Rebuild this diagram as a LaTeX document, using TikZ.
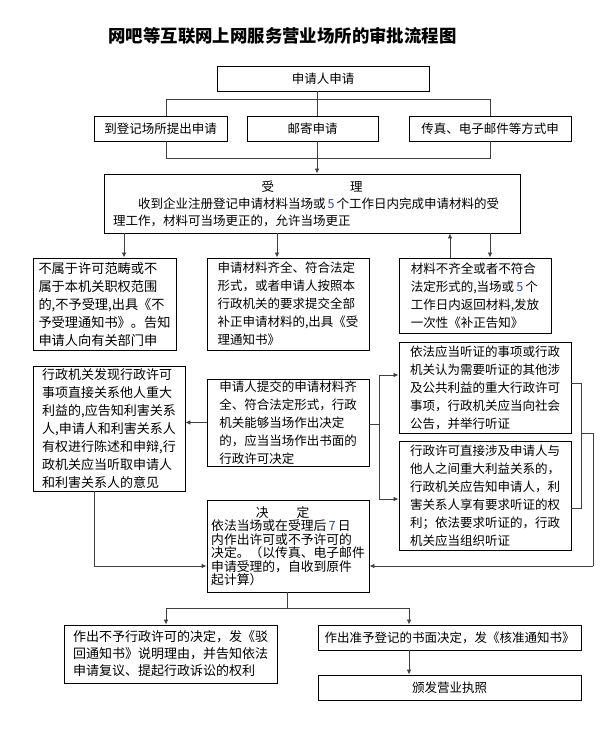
\documentclass[tikz,border=0pt]{standalone}
\usepackage{fontspec}
\setmainfont{Noto Sans CJK SC}
\usetikzlibrary{arrows.meta}
\definecolor{digitblue}{RGB}{50,70,170}
\newcommand{\dg}[1]{\,{\color{digitblue}#1}\,}
\begin{document}
\begin{tikzpicture}[x=1pt,y=-1pt,
  box/.style={draw,line width=0.9pt,inner sep=0pt,align=left,font=\fontsize{12.5}{18}\selectfont},
  link/.style={draw=black!75,line width=0.8pt},
  arr/.style={link,-{Latex[length=5pt,width=4.5pt]}}]
  \path[fill=white] (0,0) rectangle (614,735);
  \useasboundingbox (0,0) rectangle (614,735);

  \node[font=\fontsize{17.4}{20}\selectfont\bfseries] (title) at (282.5,36) {网吧等互联网上网服务营业场所的审批流程图};

  \node[box,minimum width=212,minimum height=25] (apply) at (323,78.5) {申请人申请};
  \node[box,minimum width=133,minimum height=25] (site) at (160.5,128.5) {到登记场所提出申请};
  \node[box,minimum width=131,minimum height=25] (mail) at (312.5,128.5) {邮寄申请};
  \node[box,minimum width=162,minimum height=25] (fax) at (490,128.5) {传真、电子邮件等方式申};

  \node[box,minimum width=416,minimum height=59,font=\fontsize{12.5}{17}\selectfont] (accept) at (312,203.5)
    {\makebox[398pt]{受\hspace{76pt}理}\\
     \hspace*{25pt}收到企业注册登记申请材料当场或\dg{5}个工作日内完成申请材料的受\\
     理工作，材料可当场更正的，允许当场更正};

  \node[box,minimum width=143,minimum height=92,font=\fontsize{13.2}{18}\selectfont] (reject) at (104.5,304)
    {不属于许可范畴或不\\属于本机关职权范围\\的,不予受理,出具《不\\予受理通知书》。告知\\申请人向有关部门申};
  \node[box,minimum width=162,minimum height=92] (complete) at (288,304)
    {申请材料齐全、符合法定\\形式，或者申请人按照本\\行政机关的要求提交全部\\补正申请材料的,出具《受\\理通知书》};
  \node[box,minimum width=152,minimum height=75] (amend) at (475,295.5)
    {材料不齐全或者不符合\\法定形式的,当场或\dg{5}个\\工作日内返回材料,发放\\一次性《补正告知》};

  \node[box,minimum width=152,minimum height=125,font=\fontsize{13}{18}\selectfont] (inform) at (109,428.5)
    {行政机关发现行政许可\\事项直接关系他人重大\\利益的,应告知利害关系\\人,申请人和利害关系人\\有权进行陈述和申辩,行\\政机关应当听取申请人\\和利害关系人的意见};
  \node[box,minimum width=162,minimum height=87] (onsite) at (288,422.5)
    {申请人提交的申请材料齐\\全、符合法定形式，行政\\机关能够当场作出决定\\的，应当当场作出书面的\\行政许可决定};
  \node[box,minimum width=172,minimum height=91] (hearing1) at (485,387.5)
    {依法应当听证的事项或行政\\机关认为需要听证的其他涉\\及公共利益的重大行政许可\\事项，行政机关应当向社会\\公告，并举行听证};
  \node[box,minimum width=172,minimum height=109] (hearing2) at (485,495.5)
    {行政许可直接涉及申请人与\\他人之间重大利益关系的，\\行政机关应告知申请人，利\\害关系人享有要求听证的权\\利；依法要求听证的，行政\\机关应当组织听证};

  \node[box,minimum width=162,minimum height=92,font=\fontsize{12.8}{13.5}\selectfont] (decide) at (288,546)
    {\makebox[143pt]{决\hspace{28pt}定}\\
     依法当场或在受理后\dg{7}日\\内作出许可或不予许可的\\决定。（以传真、电子邮件\\申请受理的，自收到原件\\起计算）};

  \node[box,minimum width=213,minimum height=58,font=\fontsize{13}{17}\selectfont] (deny) at (170.5,654)
    {作出不予行政许可的决定，发《驳\\回通知书》说明理由，并告知依法\\申请复议、提起行政诉讼的权利};
  \node[box,minimum width=263,minimum height=25] (grant) at (449.5,637.5) {作出准予登记的书面决定，发《核准通知书》};
  \node[box,minimum width=263,minimum height=25] (license) at (449.5,687.5) {颁发营业执照};

  \coordinate (trunk) at (317,0);
  \coordinate (busTL) at (166,99);
  \coordinate (busTR) at (490,99);
  \coordinate (busBL) at (166,158);
  \coordinate (busBR) at (490,158);
  \draw[link] (busTL |- site.north) -- (busTL) -- (busTR) -- (busTR |- fax.north);
  \draw[link] (busBL |- site.south) -- (busBL) -- (busBR) -- (busBR |- fax.south);
  \draw[link] (apply.south -| trunk) -- (mail.north -| trunk);
  \draw[arr] (mail.south -| trunk) -- (accept.north -| trunk);

  \coordinate (xa) at (124,0);
  \coordinate (xb) at (277,0);
  \coordinate (xc) at (450,0);
  \coordinate (xd) at (490,0);
  \draw[arr] (accept.south -| xa) -- (reject.north -| xa);
  \draw[arr] (accept.south -| xb) -- (complete.north -| xb);
  \draw[arr] (amend.north -| xc) -- (accept.south -| xc);
  \draw[arr] (accept.south -| xd) -- (amend.north -| xd);

  \draw[arr] (onsite.west) -- (inform.east |- onsite.west);
  \coordinate (split) at (379,424);
  \coordinate (h1in) at (379,375);
  \coordinate (h2in) at (379,499);
  \draw[link] (onsite.east |- split) -- (split);
  \draw[link] (h1in) -- (h2in);
  \draw[arr] (h1in) -- (hearing1.west |- h1in);
  \draw[arr] (h2in) -- (hearing2.west |- h2in);

  \coordinate (brT) at (581,383);
  \coordinate (brM) at (581,433);
  \coordinate (brB) at (581,508);
  \coordinate (outT) at (593,433);
  \coordinate (outB) at (593,566);
  \draw[link] (hearing1.east |- brT) -- (brT) -- (brB) -- (hearing2.east |- brB);
  \draw[link] (brM) -- (outT) -- (outB);
  \draw[arr] (outB) -- (decide.east |- outB);

  \coordinate (lk) at (94,566);
  \draw[arr] (inform.south -| lk) -- (lk) -- (decide.west |- lk);

  \coordinate (dsplit) at (287,608);
  \coordinate (dL) at (166,608);
  \coordinate (dR) at (409,608);
  \draw[link] (decide.south -| dsplit) -- (dsplit);
  \draw[arr] (dsplit) -- (dL) -- (deny.north -| dL);
  \draw[arr] (dsplit) -- (dR) -- (grant.north -| dR);
  \draw[arr] (grant.south -| dR) -- (license.north -| dR);
\end{tikzpicture}
\end{document}
